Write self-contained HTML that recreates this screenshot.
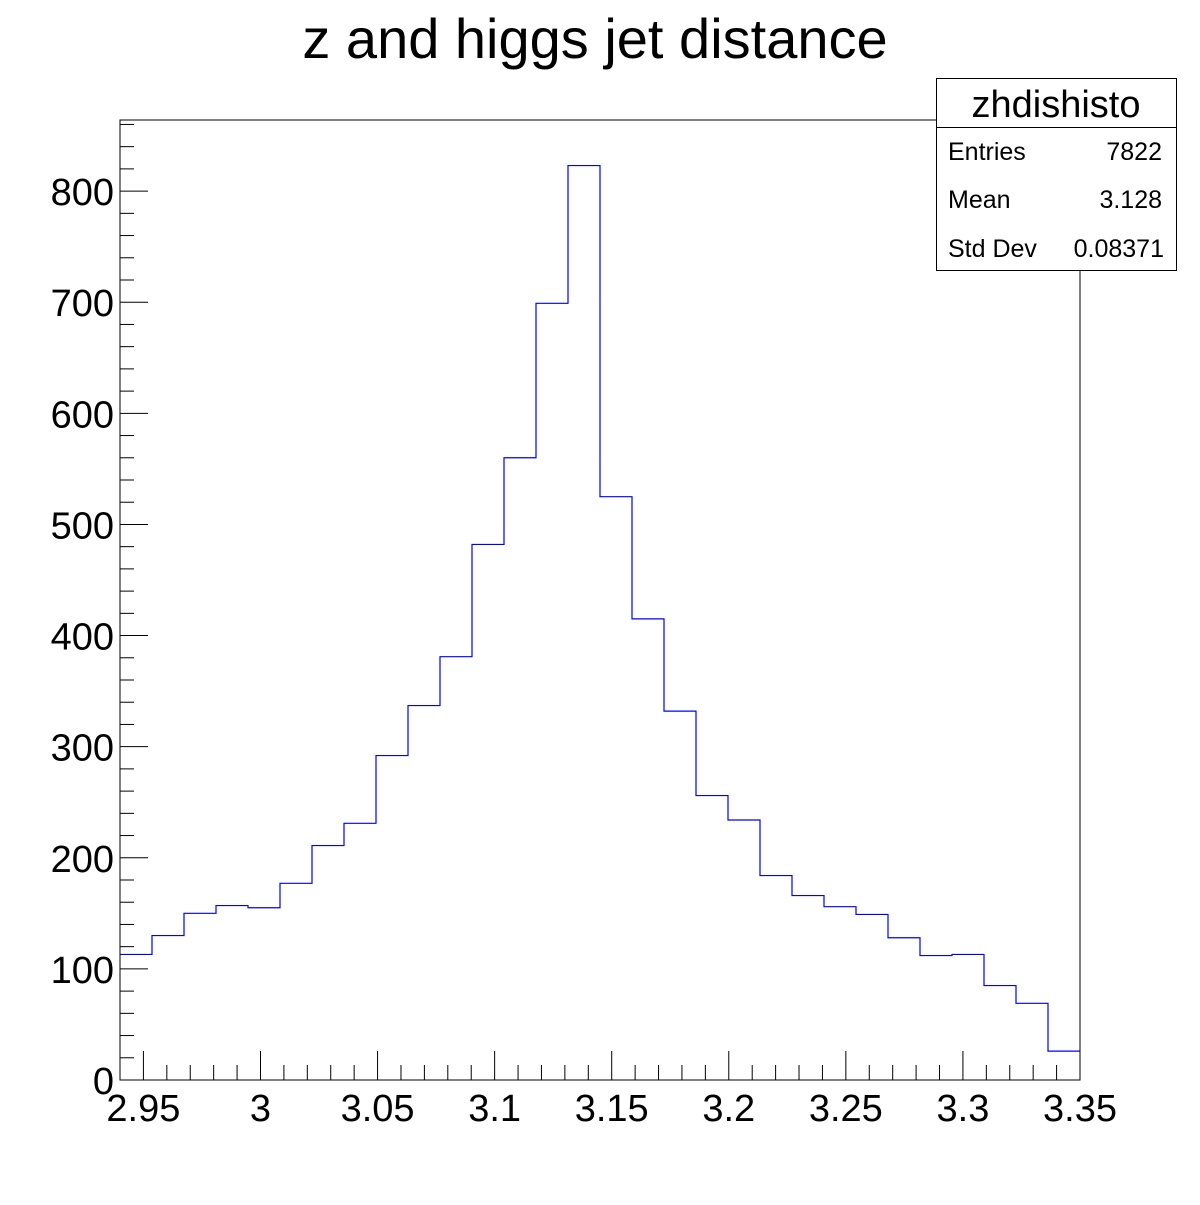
<!DOCTYPE html>
<html><head><meta charset="utf-8"><style>
body{margin:0;background:#fff}
svg text{font-family:"Liberation Sans",sans-serif}
</style></head><body>
<svg id="c" width="1200" height="1200" viewBox="0 0 1200 1200">
<rect width="1200" height="1200" fill="#fff"/>
<text x="595" y="58" font-size="56" text-anchor="middle">z and higgs jet distance</text>
<g id="axes"></g>
<path id="hist" fill="none" stroke="#0000ff" stroke-width="1.2"/>
<rect x="120" y="120" width="960" height="960" fill="none" stroke="#000" stroke-width="1"/>
<g>
<rect x="936.5" y="78.5" width="240" height="192" fill="#fff" stroke="#000"/>
<line x1="936.5" y1="127.5" x2="1176.5" y2="127.5" stroke="#000"/>
<text x="1056" y="117" font-size="38" text-anchor="middle">zhdishisto</text>
<text x="948" y="160" font-size="25">Entries</text>
<text x="1162" y="160" font-size="25" text-anchor="end">7822</text>
<text x="948" y="208" font-size="25">Mean</text>
<text x="1162" y="208" font-size="25" text-anchor="end">3.128</text>
<text x="948" y="257" font-size="25">Std Dev</text>
<text x="1164" y="257" font-size="25" text-anchor="end">0.08371</text>
</g>
</svg>
<script>
const counts=[113,130,150,157,155,177,211,231,292,337,381,482,560,699,823,525,415,332,256,234,184,166,156,149,128,112,113,85,69,26];
const xTicks=[2.95,3,3.05,3.1,3.15,3.2,3.25,3.3,3.35];
const xTickLabels=["2.95","3","3.05","3.1","3.15","3.2","3.25","3.3","3.35"];
const yTicks=[0,100,200,300,400,500,600,700,800];
const xMin=2.94,xMax=3.35,yMax=864;
const X0=120,X1=1080,Y0=1080,Y1=120;
const sx=v=>X0+(v-xMin)/(xMax-xMin)*(X1-X0);
const sy=v=>Y0-v/yMax*(Y0-Y1);
const NS="http://www.w3.org/2000/svg";
const ax=document.getElementById('axes');
function ln(x1,y1,x2,y2){const l=document.createElementNS(NS,'line');l.setAttribute('x1',x1);l.setAttribute('y1',y1);l.setAttribute('x2',x2);l.setAttribute('y2',y2);l.setAttribute('stroke','#000');ax.appendChild(l);return l;}
function tx(x,y,s,a){const t=document.createElementNS(NS,'text');t.setAttribute('x',x);t.setAttribute('y',y);t.setAttribute('font-size','38');t.setAttribute('text-anchor',a);t.textContent=s;ax.appendChild(t);return t;}
for(let v=0;v<=yMax;v+=20){const y=sy(v);const major=v%100===0;const l=ln(X0,y,X0+(major?28:14),y);

}
yTicks.forEach(v=>{const t=tx(X0-6,sy(v)+14,String(v),'end');

});
for(let i=0;;i++){const v=2.94+i*0.01;if(v>xMax+1e-9)break;const x=sx(v);const major=Math.abs(Math.round(v*20)-v*20)<1e-6;const l=ln(x,Y0,x,Y0-(major?29:15));

}
xTicks.forEach((v,i)=>{const t=tx(sx(v),Y0+41,xTickLabels[i],'middle');

});
const w=(xMax-xMin)/counts.length;let d='';
counts.forEach((c,i)=>{const xa=sx(xMin+i*w),xb=sx(xMin+(i+1)*w),y=sy(c);
d+=(i===0?`M${xa},${y}`:`L${xa},${y}`)+`L${xb},${y}`;});
document.getElementById('hist').setAttribute('d',d);
</script>
</body></html>
